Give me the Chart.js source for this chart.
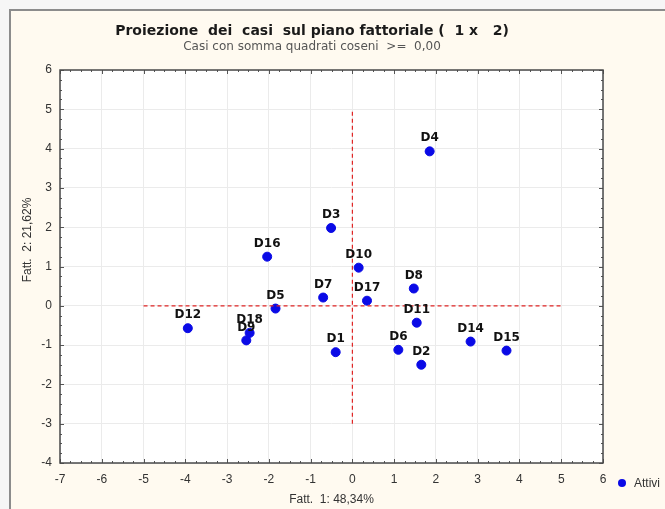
<!DOCTYPE html>
<html>
<head>
<meta charset="utf-8">
<script src="https://cdn.jsdelivr.net/npm/chart.js@4/dist/chart.umd.min.js"></script>
<style>
  body { margin: 0; background: #f6f6f6; overflow: hidden; }
  #frame { position: absolute; left: 9px; top: 9px; width: 700px; height: 540px;
           border: 2px solid #8c8c8c; background: #fffaf0; }
  #chart { position: absolute; left: 0; top: 0; }
</style>
</head>
<body>
<div id="frame"></div>
<canvas id="chart" width="665" height="509"></canvas>
<script>
// casi (punti) sul piano fattoriale
const caseNames = ['D1', 'D2', 'D3', 'D4', 'D5', 'D6', 'D7', 'D8', 'D9', 'D10', 'D11', 'D12', 'D14', 'D15', 'D16', 'D17', 'D18'];
const fatt1 = [-0.40, 1.65, -0.51, 1.85, -1.84, 1.10, -0.70, 1.47, -2.54, 0.15, 1.54, -3.94, 2.83, 3.69, -2.04, 0.35, -2.46];
const fatt2 = [-1.18, -1.50, 1.98, 3.93, -0.07, -1.12, 0.21, 0.44, -0.88, 0.97, -0.43, -0.57, -0.91, -1.14, 1.25, 0.13, -0.69];

// linee di riferimento tratteggiate
const hLineX = [-5, 5];
const vLineY = [-3, 5];

const xRange = [-7, 6];
const yRange = [-4, 6];

const titleText = 'Proiezione  dei  casi  sul piano fattoriale (  1 x   2)';
const subtitleText = 'Casi con somma quadrati coseni  >=  0,00';
const xTitle = 'Fatt.  1: 48,34%';
const yTitle = 'Fatt.  2: 21,62%';
const legendText = 'Attivi';

const blue = '#0a0ae6';

const points = caseNames.map((n, i) => ({ x: fatt1[i], y: fatt2[i] }));

const plotDecor = {
  id: 'plotDecor',
  beforeDraw(chart) {
    const a = chart.chartArea, ctx = chart.ctx;
    ctx.save();
    ctx.fillStyle = '#ffffff';
    ctx.fillRect(a.left, a.top, a.right - a.left, a.bottom - a.top);
    ctx.restore();
  },
  afterDraw(chart) {
    const a = chart.chartArea, ctx = chart.ctx;
    const xs = chart.scales.x, ys = chart.scales.y;
    ctx.save();
    // minor ticks on all sides
    ctx.strokeStyle = '#555';
    ctx.lineWidth = 1;
    ctx.beginPath();
    for (let v = xRange[0]; v <= xRange[1] + 0.001; v += 0.25) {
      const px = Math.round(xs.getPixelForValue(v)) + 0.5;
      const len = Math.abs(v - Math.round(v)) < 0.01 ? 4 : 2;
      ctx.moveTo(px, a.bottom); ctx.lineTo(px, a.bottom - len);
      ctx.moveTo(px, a.top); ctx.lineTo(px, a.top + len);
    }
    for (let v = yRange[0]; v <= yRange[1] + 0.001; v += 0.25) {
      const py = Math.round(ys.getPixelForValue(v)) + 0.5;
      const len = Math.abs(v - Math.round(v)) < 0.01 ? 4 : 2;
      ctx.moveTo(a.left, py); ctx.lineTo(a.left + len, py);
      ctx.moveTo(a.right, py); ctx.lineTo(a.right - len, py);
    }
    ctx.stroke();
    ctx.strokeStyle = '#4a4a4a';
    ctx.lineWidth = 1.5;
    ctx.strokeRect(a.left, a.top, a.right - a.left, a.bottom - a.top);

    // y title
    ctx.fillStyle = '#333';
    ctx.font = '12px "Liberation Sans", Arial, sans-serif';
    ctx.textAlign = 'center';
    ctx.textBaseline = 'middle';
    ctx.translate(28, 240);
    ctx.rotate(-Math.PI / 2);
    ctx.fillText(yTitle, 0, 0);
    ctx.restore();

    // legend
    ctx.save();
    ctx.fillStyle = blue;
    ctx.beginPath();
    ctx.arc(622, 483, 4, 0, Math.PI * 2);
    ctx.fill();
    ctx.fillStyle = '#333';
    ctx.font = '12px "Liberation Sans", Arial, sans-serif';
    ctx.textBaseline = 'middle';
    ctx.fillText(legendText, 634, 484);
    ctx.restore();
  },
  afterDatasetsDraw(chart) {
    const meta = chart.getDatasetMeta(2);
    const ctx = chart.ctx;
    ctx.save();
    ctx.font = 'bold 12px "DejaVu Sans", sans-serif';
    ctx.fillStyle = '#111';
    ctx.textAlign = 'center';
    ctx.textBaseline = 'middle';
    meta.data.forEach((el, i) => {
      ctx.fillText(caseNames[i], el.x, el.y - 13);
    });
    ctx.restore();
  }
};

new Chart(document.getElementById('chart'), {
  type: 'scatter',
  data: {
    datasets: [
      {
        data: hLineX.map(x => ({ x: x, y: 0 })),
        showLine: true,
        borderColor: '#e02424',
        borderWidth: 1.2,
        borderDash: [4, 3],
        pointRadius: 0
      },
      {
        data: vLineY.map(y => ({ x: 0, y: y })),
        showLine: true,
        borderColor: '#e02424',
        borderWidth: 1.2,
        borderDash: [4, 3],
        pointRadius: 0
      },
      {
        label: legendText,
        data: points,
        backgroundColor: blue,
        borderColor: blue,
        pointRadius: 4.5,
        pointHoverRadius: 4.5
      }
    ]
  },
  options: {
    responsive: false,
    devicePixelRatio: 1,
    animation: false,
    layout: { padding: { left: 21, right: 62, top: 24, bottom: 0 } },
    plugins: {
      legend: { display: false },
      tooltip: { enabled: false },
      title: {
        display: true,
        text: titleText,
        color: '#1a1a1a',
        font: { family: '"DejaVu Sans", sans-serif', size: 14, weight: 'bold', lineHeight: 1.0 },
        padding: { top: 0, bottom: 0 }
      },
      subtitle: {
        display: true,
        text: subtitleText,
        color: '#555',
        font: { family: '"DejaVu Sans", sans-serif', size: 12, lineHeight: 1.2 },
        padding: { top: 2, bottom: 15.6 }
      }
    },
    scales: {
      x: {
        type: 'linear',
        min: xRange[0],
        max: xRange[1],
        ticks: { stepSize: 1, color: '#333', padding: 9, font: { family: '"Liberation Sans", Arial', size: 12 } },
        grid: { color: '#ebebeb', drawTicks: false },
        border: { display: false },
        title: { display: true, text: xTitle, color: '#333', font: { family: '"Liberation Sans", Arial', size: 12 }, padding: { top: 0, bottom: 2 } },
        afterFit(scale) { scale.height = 46; }
      },
      y: {
        type: 'linear',
        min: yRange[0],
        max: yRange[1],
        ticks: { stepSize: 1, color: '#333', padding: 8, font: { family: '"Liberation Sans", Arial', size: 12 } },
        grid: { color: '#ebebeb', drawTicks: false },
        border: { display: false },
        afterFit(scale) { scale.width = 39; }
      }
    }
  },
  plugins: [plotDecor]
});
</script>
</body>
</html>
